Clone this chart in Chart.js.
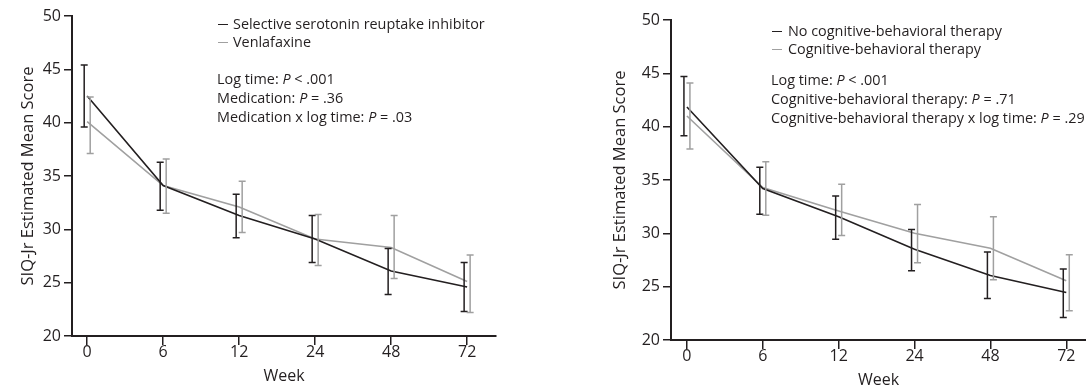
<!DOCTYPE html>
<html>
<head>
<meta charset="utf-8">
<script src="https://cdn.jsdelivr.net/npm/chart.js@4"></script>
<style>
  body { margin: 0; width: 1086px; height: 388px; overflow: hidden; background: #fff; font-family: "Open Sans", sans-serif; color: #231f20; }
  .box { position: absolute; }
  .note { position: absolute; font-size: 14.4px; line-height: 19px; white-space: nowrap; }
  .dash { display: inline-block; width: 10px; border-top: 1.6px solid; vertical-align: middle; margin-right: 5px; position: relative; top: -1px; }
</style>
</head>
<body>
<div class="box" style="left:0;top:0;width:540px;height:388px"><canvas id="left"></canvas></div>
<div class="box" style="left:550px;top:4px;width:536px;height:388px"><canvas id="right"></canvas></div>

<div class="note" style="left:218px;top:15px;line-height:18px">
  <div><span class="dash" style="color:#231f20"></span>Selective serotonin reuptake inhibitor</div>
  <div><span class="dash" style="color:#a0a0a0"></span>Venlafaxine</div>
</div>
<div class="note" style="left:217px;top:69px">
  <div>Log time: <i>P</i> &lt; .001</div>
  <div>Medication: <i>P</i> = .36</div>
  <div>Medication x log time: <i>P</i> = .03</div>
</div>

<div class="note" style="left:772px;top:22px;line-height:18px">
  <div><span class="dash" style="color:#231f20;margin-right:6px"></span>No cognitive-behavioral therapy</div>
  <div><span class="dash" style="color:#a0a0a0;margin-right:6px"></span>Cognitive-behavioral therapy</div>
</div>
<div class="note" style="left:771px;top:70px">
  <div>Log time: <i>P</i> &lt; .001</div>
  <div>Cognitive-behavioral therapy: <i>P</i> = .71</div>
  <div>Cognitive-behavioral therapy x log time: <i>P</i> = .29</div>
</div>

<script>
const weeks = ['0', '6', '12', '24', '48', '72'];

// left panel: medication
const ssriMean = [42.5, 34.1, 31.3, 29.1, 26.1, 24.6];
const ssriLow  = [39.6, 31.8, 29.2, 26.9, 23.9, 22.3];
const ssriHigh = [45.4, 36.3, 33.3, 31.3, 28.2, 26.9];
const venMean  = [40.1, 34.1, 32.1, 29.1, 28.3, 25.1];
const venLow   = [37.1, 31.5, 29.7, 26.6, 25.4, 22.2];
const venHigh  = [42.4, 36.6, 34.5, 31.4, 31.3, 27.6];

// right panel: CBT
const noCbtMean = [41.85, 34.2, 31.55, 28.5, 26.05, 24.45];
const noCbtLow  = [39.15, 31.8, 29.45, 26.5, 23.9, 22.1];
const noCbtHigh = [44.7, 36.2, 33.5, 30.35, 28.25, 26.65];
const cbtMean   = [41.0, 34.3, 32.1, 30.0, 28.6, 25.55];
const cbtLow    = [37.9, 31.7, 29.8, 27.25, 25.65, 22.75];
const cbtHigh   = [44.1, 36.7, 34.6, 32.7, 31.55, 28.0];

const ink = '#231f20';
const gray = '#a0a0a0';

const errorBars = {
  id: 'errorBars',
  afterDatasetsDraw(chart) {
    const {ctx, scales: {x, y}} = chart;
    chart.data.datasets.forEach(ds => {
      ctx.save();
      ctx.strokeStyle = ds.borderColor;
      ctx.lineWidth = 1.5;
      ds.low.forEach((lo, i) => {
        const px = x.getPixelForValue(i) + ds.shift;
        const top = y.getPixelForValue(ds.high[i]);
        const bot = y.getPixelForValue(lo);
        ctx.beginPath();
        ctx.moveTo(px, top); ctx.lineTo(px, bot);
        ctx.moveTo(px - 3.5, top); ctx.lineTo(px + 3.5, top);
        ctx.moveTo(px - 3.5, bot); ctx.lineTo(px + 3.5, bot);
        ctx.stroke();
      });
      ctx.restore();
    });
  }
};

function series(mean, low, high, color, shift) {
  return {
    data: mean.map((v, i) => ({x: i, y: v})),
    low: low, high: high, shift: shift,
    borderColor: color, borderWidth: 1.6,
    pointRadius: 0, tension: 0
  };
}

function makeChart(id, sets, pad, yWidth, xMin, xMax) {
  new Chart(document.getElementById(id), {
    type: 'line',
    data: {datasets: sets},
    plugins: [errorBars],
    options: {
      responsive: true,
      maintainAspectRatio: false,
      animation: false,
      layout: {padding: pad},
      plugins: {legend: {display: false}, tooltip: {enabled: false}},
      scales: {
        x: {
          type: 'linear', min: xMin, max: xMax,
          afterBuildTicks: s => { s.ticks = weeks.map((w, i) => ({value: i})); },
          afterFit: s => { s.height = 52; },
          ticks: {color: ink, font: {size: 16}, padding: -2, callback: v => weeks[v]},
          grid: {drawOnChartArea: false, tickLength: 9, color: ink, lineWidth: 1.5},
          border: {color: ink, width: 2},
          title: {display: true, text: 'Week', color: ink, font: {size: 16}, padding: {top: 0, bottom: 2}}
        },
        y: {
          min: 20, max: 50,
          afterFit: s => { s.width = yWidth; },
          ticks: {stepSize: 5, color: ink, font: {size: 16}, padding: 3},
          grid: {drawOnChartArea: false, tickLength: 8, color: ink, lineWidth: 1.5},
          border: {color: ink, width: 2},
          title: {display: true, text: 'SIQ-Jr Estimated Mean Score', color: ink, font: {size: 16.5}, padding: 0}
        }
      }
    }
  });
}

Chart.defaults.font.family = '"Open Sans", sans-serif';

makeChart('left', [
  series(ssriMean, ssriLow, ssriHigh, ink, -3),
  series(venMean, venLow, venHigh, gray, 3)
], {left: 18, right: 44, top: 16, bottom: 0}, 54, -0.2, 5.38);

makeChart('right', [
  series(noCbtMean, noCbtLow, noCbtHigh, ink, -3),
  series(cbtMean, cbtLow, cbtHigh, gray, 3)
], {left: 60, right: 0, top: 16, bottom: 0}, 61, -0.21, 5.26);
</script>
</body>
</html>
